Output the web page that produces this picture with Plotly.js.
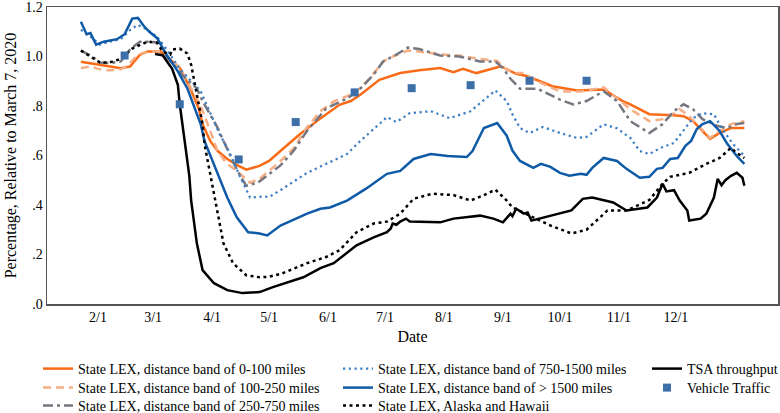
<!DOCTYPE html>
<html>
<head>
<meta charset="utf-8">
<script src="https://cdn.plot.ly/plotly-3.0.1.min.js"></script>
<style>html,body{margin:0;padding:0;background:#fff}#chart{width:780px;height:413px}</style>
</head>
<body>
<div id="chart"></div>
<script>
// ---- data ----
const band0to100Dates = ['2020-01-23','2020-02-02','2020-02-13','2020-02-18','2020-02-23','2020-02-27','2020-03-05','2020-03-08','2020-03-15','2020-03-20','2020-03-25','2020-03-27','2020-03-31','2020-04-04','2020-04-09','2020-04-14','2020-04-19','2020-04-26','2020-05-01','2020-05-08','2020-05-17','2020-05-28','2020-06-07','2020-06-13','2020-06-18','2020-06-28','2020-07-09','2020-07-19','2020-07-30','2020-08-06','2020-08-11','2020-08-18','2020-08-31','2020-09-08','2020-09-14','2020-09-27','2020-10-10','2020-10-24','2020-11-03','2020-11-07','2020-11-17','2020-11-30','2020-12-05','2020-12-10','2020-12-15','2020-12-19','2020-12-24','2020-12-30','2021-01-06'];
const band0to100 = [0.979,0.966,0.953,0.960,1.007,1.020,1.020,1.000,0.955,0.880,0.790,0.727,0.659,0.618,0.586,0.562,0.543,0.558,0.578,0.625,0.685,0.750,0.805,0.820,0.846,0.906,0.933,0.944,0.953,0.937,0.950,0.933,0.960,0.930,0.920,0.880,0.863,0.867,0.820,0.807,0.767,0.763,0.759,0.739,0.699,0.667,0.691,0.711,0.711];

const band100to250Dates = ['2020-01-23','2020-01-28','2020-02-02','2020-02-07','2020-02-13','2020-02-16','2020-02-22','2020-02-27','2020-03-05','2020-03-08','2020-03-15','2020-03-20','2020-03-26','2020-03-31','2020-04-04','2020-04-09','2020-04-14','2020-04-21','2020-04-26','2020-05-01','2020-05-08','2020-05-14','2020-05-21','2020-05-28','2020-06-04','2020-06-11','2020-06-16','2020-06-23','2020-06-30','2020-07-05','2020-07-13','2020-07-19','2020-07-30','2020-08-09','2020-08-20','2020-08-29','2020-09-03','2020-09-08','2020-09-12','2020-09-19','2020-10-01','2020-10-12','2020-10-24','2020-11-03','2020-11-07','2020-11-17','2020-11-24','2020-11-28','2020-12-03','2020-12-08','2020-12-14','2020-12-19','2020-12-24','2020-12-30','2021-01-06'];
const band100to250 = [0.953,0.960,0.948,0.944,0.948,0.960,1.007,1.020,1.020,1.000,0.955,0.885,0.800,0.700,0.615,0.566,0.538,0.490,0.506,0.538,0.585,0.630,0.715,0.779,0.819,0.840,0.859,0.912,0.980,1.000,1.024,1.020,1.009,1.004,0.990,0.982,0.947,0.933,0.933,0.900,0.859,0.859,0.875,0.813,0.787,0.739,0.747,0.760,0.787,0.759,0.711,0.671,0.699,0.727,0.739];

const band250to750Dates = ['2020-01-23','2020-01-29','2020-02-02','2020-02-07','2020-02-13','2020-02-18','2020-02-23','2020-02-28','2020-03-05','2020-03-08','2020-03-17','2020-03-24','2020-03-27','2020-03-31','2020-04-04','2020-04-07','2020-04-10','2020-04-13','2020-04-16','2020-04-19','2020-04-25','2020-05-01','2020-05-07','2020-05-14','2020-05-21','2020-05-31','2020-06-11','2020-06-18','2020-06-25','2020-06-30','2020-07-07','2020-07-13','2020-07-19','2020-07-30','2020-08-09','2020-08-20','2020-08-28','2020-09-01','2020-09-05','2020-09-10','2020-09-19','2020-10-01','2020-10-08','2020-10-15','2020-10-24','2020-10-31','2020-11-07','2020-11-17','2020-11-24','2020-11-30','2020-12-05','2020-12-10','2020-12-15','2020-12-23','2020-12-28','2021-01-02','2021-01-06'];
const band250to750 = [1.024,1.000,0.976,0.973,0.980,1.030,1.060,1.060,1.055,1.000,0.920,0.871,0.820,0.767,0.711,0.659,0.606,0.560,0.515,0.478,0.490,0.526,0.560,0.620,0.700,0.790,0.830,0.870,0.927,0.980,1.008,1.036,1.030,1.004,1.000,0.980,0.980,0.953,0.910,0.870,0.870,0.826,0.806,0.820,0.860,0.820,0.739,0.691,0.727,0.779,0.807,0.787,0.747,0.719,0.711,0.727,0.731];

const band750to1500Dates = ['2020-01-23','2020-01-28','2020-02-02','2020-02-07','2020-02-13','2020-02-18','2020-02-22','2020-02-27','2020-03-03','2020-03-08','2020-03-15','2020-03-20','2020-03-26','2020-03-29','2020-04-02','2020-04-05','2020-04-09','2020-04-12','2020-04-16','2020-04-21','2020-04-28','2020-05-01','2020-05-08','2020-05-21','2020-05-31','2020-06-11','2020-06-18','2020-06-25','2020-07-02','2020-07-07','2020-07-14','2020-07-25','2020-08-04','2020-08-15','2020-08-28','2020-09-03','2020-09-06','2020-09-10','2020-09-15','2020-09-22','2020-10-01','2020-10-10','2020-10-15','2020-10-24','2020-10-31','2020-11-07','2020-11-12','2020-11-17','2020-11-23','2020-11-30','2020-12-05','2020-12-10','2020-12-15','2020-12-21','2020-12-25','2020-12-31','2021-01-06'];
const band750to1500 = [1.108,1.080,1.048,1.060,1.070,1.108,1.128,1.108,1.080,1.030,0.950,0.910,0.860,0.807,0.739,0.686,0.631,0.578,0.510,0.430,0.434,0.432,0.465,0.530,0.566,0.606,0.659,0.706,0.755,0.735,0.771,0.779,0.751,0.779,0.863,0.820,0.766,0.711,0.691,0.715,0.691,0.671,0.675,0.726,0.710,0.671,0.618,0.606,0.631,0.651,0.699,0.751,0.771,0.767,0.711,0.647,0.598];

const bandOver1500Dates = ['2020-01-23','2020-01-25','2020-01-26','2020-01-28','2020-01-31','2020-02-04','2020-02-11','2020-02-15','2020-02-19','2020-02-22','2020-02-25','2020-02-28','2020-03-03','2020-03-08','2020-03-14','2020-03-19','2020-03-22','2020-03-26','2020-03-28','2020-03-31','2020-04-04','2020-04-09','2020-04-14','2020-04-20','2020-04-26','2020-04-30','2020-05-07','2020-05-21','2020-05-28','2020-06-02','2020-06-11','2020-06-21','2020-07-02','2020-07-09','2020-07-16','2020-07-25','2020-08-03','2020-08-13','2020-08-16','2020-08-22','2020-08-29','2020-09-03','2020-09-06','2020-09-10','2020-09-17','2020-09-21','2020-09-26','2020-10-01','2020-10-06','2020-10-12','2020-10-15','2020-10-18','2020-10-24','2020-10-31','2020-11-05','2020-11-12','2020-11-17','2020-11-21','2020-11-24','2020-11-28','2020-12-02','2020-12-06','2020-12-09','2020-12-12','2020-12-15','2020-12-19','2020-12-24','2020-12-28','2021-01-02','2021-01-06'];
const bandOver1500 = [1.140,1.110,1.090,1.095,1.048,1.060,1.070,1.090,1.153,1.156,1.124,1.100,1.075,1.008,0.940,0.871,0.807,0.727,0.659,0.600,0.526,0.430,0.350,0.290,0.285,0.277,0.317,0.365,0.385,0.390,0.418,0.466,0.526,0.538,0.586,0.606,0.598,0.594,0.618,0.711,0.731,0.680,0.620,0.578,0.550,0.566,0.554,0.530,0.518,0.526,0.522,0.550,0.590,0.578,0.546,0.510,0.514,0.546,0.550,0.586,0.590,0.639,0.659,0.707,0.727,0.739,0.699,0.647,0.598,0.566];

const alaskaHawaiiDates = ['2020-01-23','2020-01-28','2020-02-02','2020-02-07','2020-02-13','2020-02-19','2020-02-27','2020-03-03','2020-03-06','2020-03-10','2020-03-11','2020-03-15','2020-03-19','2020-03-21','2020-03-23','2020-03-25','2020-03-27','2020-03-28','2020-03-30','2020-04-01','2020-04-04','2020-04-07','2020-04-12','2020-04-19','2020-04-26','2020-05-01','2020-05-08','2020-05-21','2020-05-31','2020-06-07','2020-06-16','2020-06-25','2020-07-02','2020-07-09','2020-07-16','2020-07-26','2020-08-06','2020-08-15','2020-08-22','2020-08-28','2020-09-03','2020-09-06','2020-09-17','2020-09-26','2020-10-07','2020-10-15','2020-10-26','2020-11-05','2020-11-17','2020-11-24','2020-11-28','2020-12-08','2020-12-17','2020-12-24','2020-12-30','2021-01-02','2021-01-06'];
const alaskaHawaii = [1.024,1.000,0.976,0.976,0.990,1.032,1.060,1.056,1.020,1.008,1.028,1.032,1.012,0.966,0.886,0.807,0.727,0.647,0.566,0.486,0.350,0.245,0.165,0.116,0.108,0.110,0.124,0.165,0.190,0.217,0.290,0.325,0.333,0.365,0.425,0.446,0.440,0.418,0.440,0.462,0.418,0.390,0.350,0.317,0.285,0.300,0.378,0.378,0.420,0.486,0.514,0.530,0.566,0.590,0.631,0.610,0.590];

const tsaDates = ['2020-03-02','2020-03-06','2020-03-11','2020-03-14','2020-03-15','2020-03-17','2020-03-19','2020-03-20','2020-03-21','2020-03-24','2020-03-27','2020-04-02','2020-04-09','2020-04-17','2020-04-26','2020-05-03','2020-05-19','2020-05-28','2020-06-04','2020-06-11','2020-06-16','2020-06-25','2020-07-02','2020-07-04','2020-07-05','2020-07-07','2020-07-09','2020-07-12','2020-07-14','2020-07-30','2020-08-06','2020-08-20','2020-08-27','2020-09-01','2020-09-05','2020-09-06','2020-09-08','2020-09-12','2020-09-14','2020-09-16','2020-09-26','2020-10-07','2020-10-13','2020-10-18','2020-10-29','2020-11-05','2020-11-16','2020-11-21','2020-11-24','2020-11-26','2020-11-30','2020-12-03','2020-12-07','2020-12-08','2020-12-14','2020-12-17','2020-12-21','2020-12-23','2020-12-25','2020-12-27','2020-12-30','2021-01-02','2021-01-05','2021-01-06'];
const tsaThroughput = [1.010,1.005,0.950,0.886,0.807,0.700,0.590,0.520,0.418,0.245,0.137,0.084,0.056,0.044,0.048,0.068,0.108,0.145,0.165,0.205,0.237,0.269,0.290,0.305,0.325,0.320,0.333,0.345,0.333,0.330,0.345,0.357,0.345,0.330,0.365,0.355,0.385,0.365,0.370,0.337,0.357,0.378,0.425,0.430,0.410,0.378,0.390,0.430,0.486,0.455,0.460,0.418,0.378,0.337,0.345,0.365,0.430,0.506,0.480,0.500,0.518,0.530,0.510,0.478];

const vehicleDates = ['2020-02-15','2020-03-15','2020-04-15','2020-05-15','2020-06-15','2020-07-15','2020-08-15','2020-09-15','2020-10-15'];
const vehicleTraffic = [1.004,0.807,0.584,0.735,0.855,0.872,0.884,0.902,0.902];

const xTickVals = ['2020-02-01','2020-03-01','2020-04-01','2020-05-01','2020-06-01','2020-07-01','2020-08-01','2020-09-01','2020-10-01','2020-11-01','2020-12-01'];
const xTickText = ['2/1','3/1','4/1','5/1','6/1','7/1','8/1','9/1','10/1','11/1','12/1'];
const yTickVals = [0,0.2,0.4,0.6,0.8,1.0,1.2];
const yTickText = ['.0','.2','.4','.6','.8','1.0','1.2'];

// ---- chart ----
const FONT = '"Liberation Serif", "Times New Roman", Times, serif';
function line(name, x, y, color, width, dash, legend) {
  return {type:'scatter', mode:'lines', name:name, x:x, y:y, legend:legend,
          line:{color:color, width:width, dash:dash}, hoverinfo:'skip'};
}
const traces = [
  line('State LEX, distance band of 0-100 miles', band0to100Dates, band0to100, '#F96B17', 2.5, 'solid', 'legend'),
  line('State LEX, distance band of 100-250 miles', band100to250Dates, band100to250, '#F6AF85', 2.5, '8px,5px', 'legend2'),
  line('State LEX, distance band of 250-750 miles', band250to750Dates, band250to750, '#767680', 2.5, '10px,4px,3px,4px', 'legend3'),
  line('State LEX, distance band of 750-1500 miles', band750to1500Dates, band750to1500, '#3F7FC3', 2.25, '2.25px,3.5px', 'legend4'),
  line('State LEX, distance band of > 1500 miles', bandOver1500Dates, bandOver1500, '#0E5AA7', 2.5, 'solid', 'legend5'),
  line('State LEX, Alaska and Hawaii', alaskaHawaiiDates, alaskaHawaii, '#000000', 2.5, '3px,3.5px', 'legend6'),
  line('TSA throughput', tsaDates, tsaThroughput, '#000000', 2.5, 'solid', 'legend7'),
  {type:'scatter', mode:'markers', name:'Vehicle Traffic', x:vehicleDates, y:vehicleTraffic, legend:'legend8',
   marker:{symbol:'square', size:8, color:'#3C6EA8'}, hoverinfo:'skip'}
];

// one legend per entry so the three columns and 19px rows match the reference
function legendAt(px, py) {
  return {x:(px-47)/731, y:(304-py)/297, xanchor:'left', yanchor:'top', orientation:'v',
          bgcolor:'rgba(0,0,0,0)', borderwidth:0, tracegroupgap:0,
          font:{family:FONT, size:14, color:'#000'}};
}
const colX = [38, 338, 647];
const rowY = [353, 372, 390];

const layout = {
  width:780, height:413,
  margin:{l:47, r:2, t:7, b:109, autoexpand:false},
  paper_bgcolor:'#fff', plot_bgcolor:'#fff',
  font:{family:FONT, size:14, color:'#000'},
  showlegend:true,
  legend: legendAt(colX[0], rowY[0]),
  legend2: legendAt(colX[0], rowY[1]),
  legend3: legendAt(colX[0], rowY[2]),
  legend4: legendAt(colX[1], rowY[0]),
  legend5: legendAt(colX[1], rowY[1]),
  legend6: legendAt(colX[1], rowY[2]),
  legend7: legendAt(colX[2], rowY[0]),
  legend8: legendAt(colX[2], rowY[1]),
  xaxis:{type:'date', range:['2020-01-05 04:00','2021-01-23 17:00'],
         tickvals:xTickVals, ticktext:xTickText, ticks:'', showgrid:false, zeroline:false,
         showline:true, mirror:true, linecolor:'#555', linewidth:1.5,
         tickfont:{family:FONT, size:14, color:'#000'},
         title:{text:'Date', font:{family:FONT, size:16, color:'#000'}, standoff:6}},
  yaxis:{range:[0,1.2], tickvals:yTickVals, ticktext:yTickText, ticks:'', showgrid:false, zeroline:false,
         showline:true, mirror:true, linecolor:'#555', linewidth:1.5, ticklabeloverflow:'allow',
         tickfont:{family:FONT, size:14, color:'#000'},
         title:{text:'Percentage, Relative to March 7, 2020', font:{family:FONT, size:16, color:'#000'}, standoff:4}}
};

Plotly.newPlot('chart', traces, layout, {displayModeBar:false, staticPlot:true});
</script>
</body>
</html>
